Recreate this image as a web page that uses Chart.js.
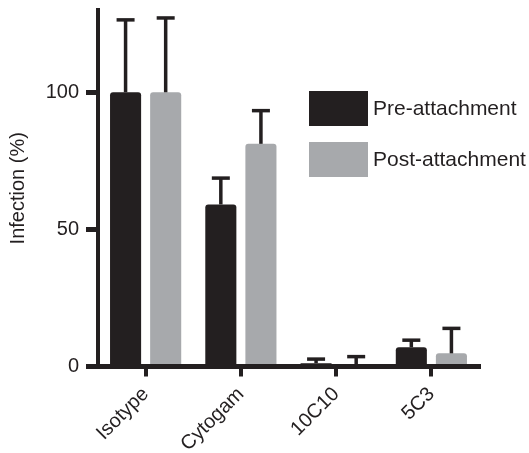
<!DOCTYPE html>
<html>
<head>
<meta charset="utf-8">
<script src="https://cdn.jsdelivr.net/npm/chart.js@4/dist/chart.umd.min.js"></script>
<style>
  html, body { margin: 0; padding: 0; background: #ffffff; }
  #wrap { width: 529px; height: 453px; position: relative; }
</style>
</head>
<body>
<div id="wrap"><canvas id="c" width="529" height="453"></canvas></div>
<script>
// ---- data ----
const categories = ['Isotype', 'Cytogam', '10C10', '5C3'];
const preValues = [100, 59.1, 1.2, 7.0];
const preErrors = [26.4, 9.6, 1.5, 2.6];
const postValues = [100, 81.2, 0, 4.8];
const postErrors = [27.1, 12.1, 3.6, 9.1];
const yTickValues = [0, 50, 100];
const seriesLabels = ['Pre-attachment', 'Post-attachment'];

const INK = '#231f20';
const GREY = '#a7a9ac';
const FONT = 'Liberation Sans, Arial, Helvetica, sans-serif';

const errorBarPlugin = {
  id: 'errorBars',
  afterDatasetsDraw(chart) {
    const ctx = chart.ctx;
    const y = chart.scales.y;
    const errs = [preErrors, postErrors];
    chart.data.datasets.forEach((ds, i) => {
      const meta = chart.getDatasetMeta(i);
      meta.data.forEach((bar, j) => {
        const v = ds.data[j];
        const e = errs[i][j];
        const y0 = y.getPixelForValue(v);
        const y1 = y.getPixelForValue(v + e);
        ctx.save();
        ctx.strokeStyle = INK;
        ctx.lineWidth = 3.5;
        ctx.beginPath();
        ctx.moveTo(bar.x, y0);
        ctx.lineTo(bar.x, y1);
        ctx.stroke();
        ctx.beginPath();
        ctx.moveTo(bar.x - 9, y1);
        ctx.lineTo(bar.x + 9, y1);
        ctx.stroke();
        ctx.restore();
      });
    });
  }
};

const legendPlugin = {
  id: 'boxLegend',
  afterDraw(chart, args, opts) {
    const ctx = chart.ctx;
    ctx.save();
    chart.data.datasets.forEach((ds, i) => {
      const top = opts.top + i * opts.rowStep;
      ctx.fillStyle = ds.backgroundColor;
      ctx.fillRect(opts.left, top, opts.boxW, opts.boxH);
      ctx.fillStyle = INK;
      ctx.font = '21px ' + FONT;
      ctx.textBaseline = 'middle';
      ctx.textAlign = 'left';
      ctx.fillText(ds.label, opts.left + opts.boxW + 5, top + opts.boxH / 2 + 1);
    });
    ctx.restore();
  }
};

new Chart(document.getElementById('c'), {
  type: 'bar',
  data: {
    labels: categories,
    datasets: [
      { label: seriesLabels[0], data: preValues, backgroundColor: INK, borderRadius: 3, borderSkipped: 'bottom',
        barPercentage: 0.775, categoryPercentage: 0.842 },
      { label: seriesLabels[1], data: postValues, backgroundColor: GREY, borderRadius: 3, borderSkipped: 'bottom',
        barPercentage: 0.775, categoryPercentage: 0.842 }
    ]
  },
  options: {
    responsive: false,
    animation: false,
    layout: { padding: { left: 0, top: 10, right: 50, bottom: 0 } },
    plugins: {
      legend: { display: false },
      tooltip: { enabled: false },
      boxLegend: { left: 309, top: 91, boxW: 59, boxH: 35, rowStep: 51 }
    },
    scales: {
      y: {
        min: 0, max: 130,
        afterBuildTicks(scale) { scale.ticks = yTickValues.map(v => ({ value: v })); },
        afterFit(scale) { scale.width = 98; scale.paddingTop = 0; scale.paddingBottom = 0; },
        border: { display: true, color: INK, width: 4 },
        grid: { drawOnChartArea: false, drawTicks: true, tickLength: 12, lineWidth: 5, color: INK },
        ticks: { color: INK, padding: 7, font: { family: FONT, size: 20 } },
        title: { display: true, text: 'Infection (%)', color: INK, font: { family: FONT, size: 20 }, padding: { top: 6, bottom: 0 } }
      },
      x: {
        afterFit(scale) { scale.height = 86.5; },
        border: { display: true, color: INK, width: 5 },
        grid: { offset: false, drawOnChartArea: false, drawTicks: true, tickLength: 10, lineWidth: 4, color: INK },
        ticks: { color: INK, minRotation: 45, maxRotation: 45, padding: 6, font: { family: FONT, size: 20 } }
      }
    }
  },
  plugins: [errorBarPlugin, legendPlugin]
});
</script>
</body>
</html>
